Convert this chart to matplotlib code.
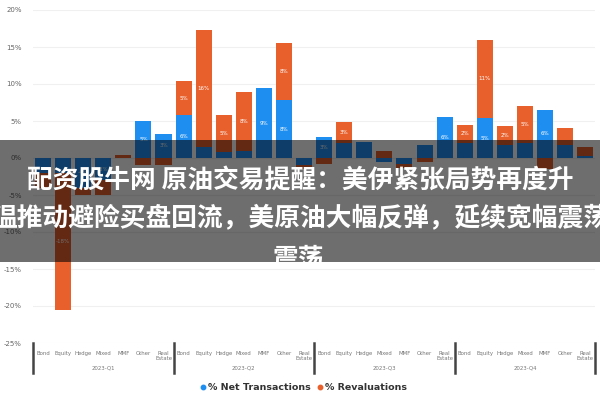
import matplotlib
matplotlib.use("Agg")
import matplotlib.pyplot as plt
import numpy as np
from matplotlib.transforms import Bbox, TransformedBbox
from matplotlib.patches import Rectangle
from matplotlib.lines import Line2D

categories = ["Bond", "Equity", "Hedge", "Mixed", "MMF", "Other", "Real\nEstate"]
groups = ["2023-Q1", "2023-Q2", "2023-Q3", "2023-Q4"]

net_transactions = [
    -2.0, -2.0, -4.0, -3.0, 0.0, 5.0, 3.3,
    5.8, 1.5, 0.8, 1.0, 9.4, 7.8, -1.0,
    2.8, 2.0, 2.2, -0.5, -0.8, 1.8, 5.5,
    2.0, 5.4, 1.8, 2.0, 6.5, 1.8, 0.3,
]
revaluations = [
    -2.0, -18.5, -1.0, -2.0, 0.4, -1.0, -1.0,
    4.6, 15.8, 5.0, 7.9, 0.0, 7.7, -0.5,
    -0.8, 2.9, 0.0, 1.0, -0.5, -0.5, 0.0,
    2.5, 10.6, 2.5, 5.0, -1.5, 2.2, 1.2,
]
y_ticks = [20, 15, 10, 5, 0, -5, -10, -15, -20, -25]

BLUE = "#1f8ef1"
ORANGE = "#e8602c"

fig = plt.figure(figsize=(6, 4), dpi=100)
ax = fig.add_axes([0.055, 0.1425, 0.937, 0.8325])

n = len(net_transactions)
x = np.arange(n)
nt = np.array(net_transactions)
rv = np.array(revaluations)
rv_bottom = np.where(np.sign(rv) == np.sign(nt), nt, 0.0)

ax.bar(x, nt, width=0.8, color=BLUE, zorder=3)
ax.bar(x, rv, bottom=rv_bottom, width=0.8, color=ORANGE, zorder=3)

for i in range(n):
    if abs(nt[i]) >= 2.5:
        ax.text(x[i], nt[i] / 2, f"{nt[i]:.0f}%", ha="center", va="center",
                color="white", fontsize=4, zorder=4)
    if abs(rv[i]) >= 2.5:
        ax.text(x[i], rv_bottom[i] + rv[i] / 2, f"{rv[i]:.0f}%", ha="center",
                va="center", color="white", fontsize=4, zorder=4)

ax.set_xlim(-0.5, n - 0.5)
ax.set_ylim(-25, 20)
ax.set_yticks(y_ticks)
ax.set_yticklabels([f"{t}%" for t in y_ticks], fontsize=5, color="#666666")
ax.tick_params(axis="y", length=0, pad=8)
ax.yaxis.grid(True, color="#f0f0f0", linewidth=0.8, zorder=0)
ax.set_xticks(x)
ax.set_xticklabels(categories * len(groups), fontsize=3.9, color="#777777",
                   linespacing=0.9, va="top")
ax.tick_params(axis="x", length=0, pad=6)
for s in ax.spines.values():
    s.set_visible(False)

nc = len(categories)
for g in range(len(groups) + 1):
    xp = g * nc - 0.5
    ax.add_line(Line2D([xp, xp], [0, -0.09], transform=ax.get_xaxis_transform(),
                       color="#444444", linewidth=1.8, clip_on=False))
for g, name in enumerate(groups):
    ax.text(g * nc + (nc - 1) / 2, -0.075, name, transform=ax.get_xaxis_transform(),
            ha="center", va="center", fontsize=3.9, color="#777777")

handles = [Line2D([], [], marker="o", linestyle="", markersize=3.2, color=BLUE),
           Line2D([], [], marker="o", linestyle="", markersize=3.2, color=ORANGE)]
leg = fig.legend(handles, ["% Net Transactions", "% Revaluations"], loc="center",
                 bbox_to_anchor=(0.505, 0.03), ncol=2, frameon=False,
                 prop={"size": 6.8, "weight": "bold"}, handletextpad=0.1,
                 columnspacing=0.6, handlelength=0.8)
for t in leg.get_texts():
    t.set_color("#333333")

# overlay band with caption
band_lo, band_hi = 1 - 262 / 400, 1 - 140 / 400
fig.patches.append(Rectangle((0, band_lo), 1, band_hi - band_lo, transform=fig.transFigure,
                             facecolor="black", alpha=0.57, zorder=10))
clip = TransformedBbox(Bbox([[0, band_lo], [1, band_hi]]), fig.transFigure)
lines = [("配资股牛网 原油交易提醒：美伊紧张局势再度升", 0.5, 0.55),
         ("温推动避险买盘回流，美原油大幅反弹，延续宽幅震荡", 0.5, 0.455),
         ("震荡", 0.497, 0.35)]
for s, xx, yy in lines:
    t = fig.text(xx, yy, s, ha="center", va="center", color="white", fontsize=18.5,
                 fontweight="bold", family=["Noto Sans CJK SC", "DejaVu Sans"], zorder=11)
    t.set_clip_box(clip)
    t.set_clip_on(True)

fig.savefig("out.png", dpi=100)
